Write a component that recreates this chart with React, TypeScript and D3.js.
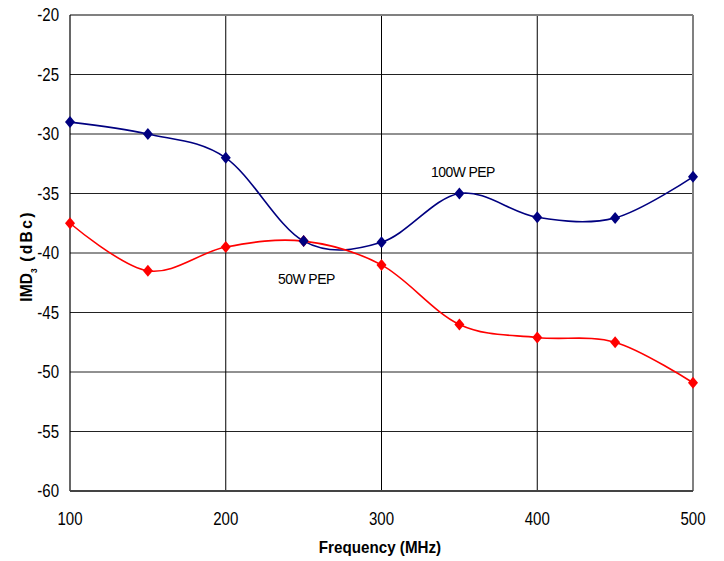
import React from "react";
import * as d3 from "d3";

const freqs = [100, 150, 200, 250, 300, 350, 400, 450, 500];
const pep100 = [-29, -30, -32, -39, -39.1, -35, -37, -37.05, -33.6];
const pep50 = [-37.5, -41.5, -39.5, -39, -41, -46, -47.1, -47.5, -50.9];
const yTicks = [-20, -25, -30, -35, -40, -45, -50, -55, -60];
const xTicks = [100, 200, 300, 400, 500];

const W = 724, H = 561;
const L = 70, R = 693, T = 15, B = 491;

function T2({ x, y, sx = 0.86, children, ...rest }: any) {
  return (
    <text transform={`translate(${x},${y}) scale(${sx},1)`} {...rest}>
      {children}
    </text>
  );
}

export default function App() {
  const x = d3.scaleLinear().domain([100, 500]).range([L, R]);
  const y = d3.scaleLinear().domain([-60, -20]).range([B, T]);
  const line = d3
    .line<number>()
    .x((_, i) => x(freqs[i]))
    .y((d) => y(d))
    .curve(d3.curveCardinal.tension(0));
  const diamond = (cx: number, cy: number) =>
    `M${cx},${cy - 6}L${cx + 5},${cy}L${cx},${cy + 6}L${cx - 5},${cy}Z`;
  const font = "'Liberation Sans', Arial, sans-serif";
  return (
    <svg width={W} height={H} style={{ position: "absolute", left: 0, top: 0 }} fontFamily={font}>
      <rect width={W} height={H} fill="#fff" />
      {yTicks.map((t) => (
        <line key={t} x1={L} x2={R} y1={y(t)} y2={y(t)} stroke="#222" strokeWidth={1} />
      ))}
      {xTicks.slice(1, -1).map((t) => (
        <line key={t} x1={x(t)} x2={x(t)} y1={T} y2={B} stroke="#000" strokeWidth={1} />
      ))}
      <line x1={L} x2={R} y1={T} y2={T} stroke="#808080" strokeWidth={2} />
      <line x1={R} x2={R} y1={T} y2={B} stroke="#808080" strokeWidth={2} />
      <line x1={L} x2={L} y1={T} y2={B} stroke="#000" strokeWidth={1.2} />
      <line x1={L} x2={R} y1={B} y2={B} stroke="#444" strokeWidth={2} />
      {yTicks.map((t) => (
        <T2 key={t} x={59} y={y(t) + 6} fontSize={17.5} textAnchor="end" fill="#000">
          {t}
        </T2>
      ))}
      {xTicks.map((t) => (
        <T2 key={t} x={x(t)} y={525} fontSize={17.5} textAnchor="middle" fill="#000">
          {t}
        </T2>
      ))}
      <T2 x={380} y={553} sx={0.95} fontSize={16} fontWeight="bold" textAnchor="middle">
        Frequency (MHz)
      </T2>
      <text
        transform={`translate(32,${256}) rotate(-90) scale(0.92,1)`}
        fontSize={17}
        fontWeight="bold"
        textAnchor="middle"
      >
        IMD<tspan fontSize={9} dy={5}>3</tspan>
        <tspan dy={-5} letterSpacing={2.5}> (dBc)</tspan>
      </text>
      <path d={line(pep100) || ""} fill="none" stroke="#000080" strokeWidth={1.6} />
      <path d={line(pep50) || ""} fill="none" stroke="#ff0000" strokeWidth={1.6} />
      {pep50.map((v, i) => (
        <path key={"r" + i} d={diamond(x(freqs[i]), y(v))} fill="#ff0000" />
      ))}
      {pep100.map((v, i) => (
        <path key={"b" + i} d={diamond(x(freqs[i]), y(v))} fill="#000080" />
      ))}
      <T2 x={431} y={177} sx={0.9} fontSize={15.5} letterSpacing={-0.6}>100W PEP</T2>
      <T2 x={278} y={284} sx={0.9} fontSize={15.5} letterSpacing={-0.6}>50W PEP</T2>
    </svg>
  );
}
